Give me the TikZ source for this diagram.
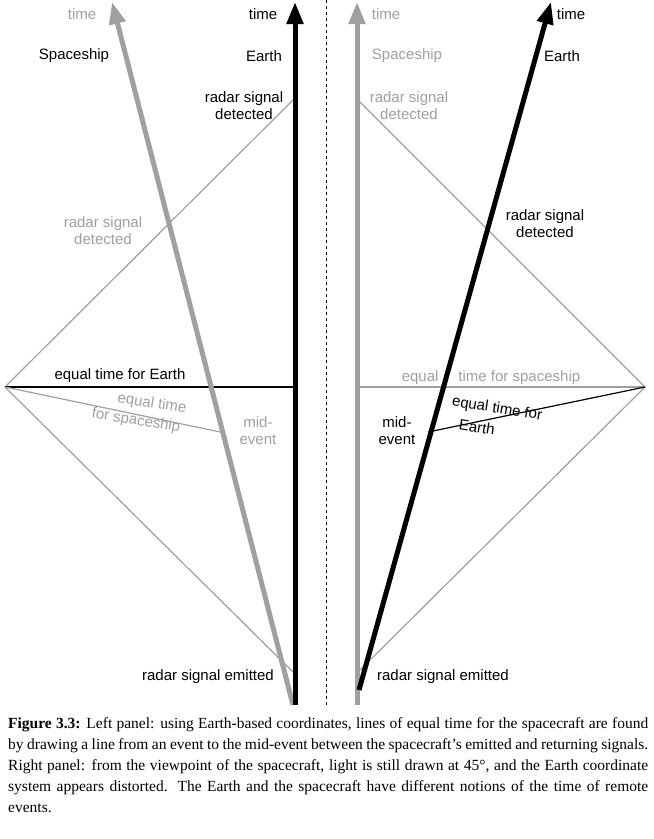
\documentclass[tikz,border=0pt]{standalone}
\usepackage{fontspec}
\setmainfont{Liberation Serif}
\setsansfont{Liberation Sans}
\usetikzlibrary{arrows.meta}
\definecolor{lg}{RGB}{160,160,160}
\begin{document}
\begin{tikzpicture}[x=1pt,y=-1pt,
  lab/.style={font=\sffamily\fontsize{15}{17}\selectfont,align=center,inner sep=1pt},
  wl/.style={line width=5pt,-{Triangle[length=22pt,width=16pt]}},
  light/.style={line width=1.2pt,lg}]
\useasboundingbox[fill=white] (0,0) rectangle (654,839);
% left panel
\coordinate (Le) at (293,672);
\coordinate (Ll) at (5,387);
\coordinate (Ld) at (293,100);
\coordinate (Lm) at (225,433);
\coordinate (Ler) at (295,387);
\draw[light] (Le) -- (Ll) -- (Ld);
\draw[line width=1.2pt,black] (Ll) -- (Ler);
\draw[light] (Ll) -- (Lm);
\draw[wl,lg] (293,705) -- (112,2);
\draw[wl,black] (295,705) -- (295,2);
\node[lab,lg] (t1) at (82,14) {time};
\node[lab] (t2) at (263,14) {time};
\node[lab] (s1) at (74,56) {Spaceship};
\node[lab] (e1) at (264,56) {Earth};
\node[lab] (d1) at (244,106) {radar signal\\detected};
\node[lab,lg] (d2) at (103,231) {radar signal\\detected};
\node[lab] (q1) at (120,376) {equal time for Earth};
\node[lab,lg,rotate=-9] (q2a) at (152,404) {equal time};
\node[lab,lg,rotate=-9] (q2b) at (136,421) {for spaceship};
\node[lab,lg] (m1) at (258,431) {mid-\\event};
\node[lab] (em1) at (208,677) {radar signal emitted};
% dashed divider
\draw[dashed,line width=1pt] (326,0) -- (326,705);
% right panel
\coordinate (Re) at (358,672);
\coordinate (Rr) at (645,387);
\coordinate (Rd) at (358,100);
\coordinate (Rm) at (428,432);
\coordinate (Rs) at (357,387);
\draw[light] (Re) -- (Rr) -- (Rd);
\draw[light] (Rs) -- (Rr);
\node[lab,lg,fill=white,inner xsep=3pt] (q3) at (491,378) {equal\hspace{20pt}time for spaceship};
\draw[line width=1.2pt] (Rr) -- (Rm);
\draw[wl,lg] (357,705) -- (357,2);
\draw[wl,black] (359,690) -- (551,2);
\node[lab,lg] (t3) at (386,14) {time};
\node[lab] (t4) at (571,14) {time};
\node[lab,lg] (s2) at (407,56) {Spaceship};
\node[lab] (e2) at (562,56) {Earth};
\node[lab,lg] (d3) at (409,106) {radar signal\\detected};
\node[lab] (d4) at (545,224) {radar signal\\detected};
\node[lab,rotate=-9] (q4a) at (497,409) {equal time for};
\node[lab,rotate=-9] (q4b) at (477,427) {Earth};
\node[lab] (m2) at (397,431) {mid-\\event};
\node[lab] (em2) at (443,677) {radar signal emitted};
\node[anchor=north west,text width=640pt,align=justify,inner sep=0pt,font=\fontsize{15.5}{21}\selectfont] (cap) at (8,717)
{\textbf{Figure 3.3:} Left panel: using Earth-based coordinates, lines of equal time for the spacecraft are found by drawing a line from an event to the mid-event between the spacecraft's emitted and returning signals. Right panel: from the viewpoint of the spacecraft, light is still drawn at 45°, and the Earth coordinate system appears distorted. The Earth and the spacecraft have different notions of the time of remote events.};
\end{tikzpicture}
\end{document}
